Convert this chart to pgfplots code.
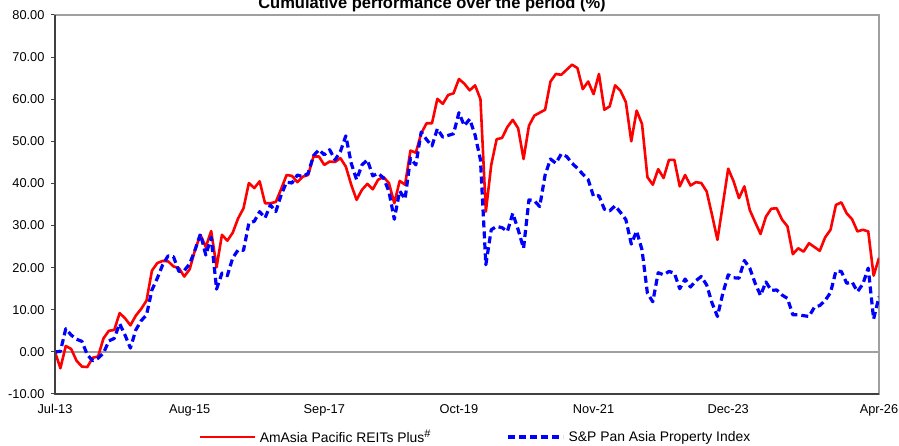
\documentclass[border=0pt]{standalone}
\usepackage{fontspec}
\setmainfont{Liberation Sans}
\usepackage{pgfplots}
\usepackage{pgfplotstable}
\pgfplotsset{compat=1.18}

\definecolor{framegray}{HTML}{A0A0A0}
\definecolor{axisdark}{HTML}{404040}

% months since Jul-13, cumulative return (%)
\pgfplotstableread{
m val
0 0
1 -3.9
2 1.4
3 0.7
4 -2.1
5 -3.5
6 -3.6
7 -1.4
8 -1.1
9 3.2
10 5.0
11 5.2
12 9.2
13 8.0
14 6.3
15 8.6
16 10.2
17 12.2
18 19.3
19 21.1
20 21.6
21 21.5
22 20.3
23 19.9
24 17.9
25 19.6
26 24.2
27 27.8
28 24.9
29 28.7
30 20.1
31 27.8
32 26.4
33 28.3
34 31.7
35 34.1
36 40.1
37 38.9
38 40.5
39 35.3
40 35.3
41 35.6
42 38.7
43 42.0
44 41.8
45 40.3
46 41.6
47 42.0
48 46.4
49 46.4
50 44.4
51 45.2
52 45.1
53 46.0
54 44.0
55 39.7
56 36.1
57 38.5
58 39.9
59 38.6
60 40.9
61 41.5
62 40.1
63 35.3
64 40.6
65 39.7
66 47.8
67 47.3
68 51.9
69 54.3
70 54.3
71 60.1
72 58.9
73 61.0
74 61.4
75 64.8
76 63.7
77 62.1
78 63.3
79 60.0
80 33.3
81 44.4
82 50.5
83 50.8
84 53.4
85 55.1
86 53.1
87 45.8
88 53.7
89 56.1
90 56.8
91 57.5
92 64.2
93 66.0
94 65.8
95 67.0
96 68.2
97 67.4
98 62.4
99 64.2
100 61.2
101 66.0
102 57.5
103 58.3
104 63.3
105 62.0
106 59.3
107 50.0
108 57.3
109 54.1
110 41.5
111 39.7
112 43.4
113 41.3
114 45.6
115 45.6
116 39.3
117 42.0
118 39.5
119 40.3
120 40.1
121 38.1
122 32.5
123 26.6
124 35.0
125 43.5
126 40.5
127 36.5
128 39.3
129 33.7
130 30.8
131 28.0
132 32.1
133 34.0
134 34.1
135 31.4
136 29.8
137 23.2
138 24.6
139 23.8
140 25.8
141 24.9
142 24.0
143 27.2
144 29.0
145 34.9
146 35.5
147 32.9
148 31.5
149 28.6
150 29.0
151 28.6
152 18.1
153 22.3
}\amasia

\pgfplotstableread{
m val
0 0
1 0.1
2 5.5
3 4.0
4 3.0
5 2.5
6 -0.7
7 -2.1
8 -1.5
9 -0.3
10 2.6
11 3.2
12 6.7
13 4.0
14 0.9
15 5.2
16 7.4
17 8.8
18 14.7
19 17.5
20 20.7
21 22.8
22 22.6
23 19.1
24 19.3
25 20.9
26 24.2
27 28.0
28 23.0
29 27.2
30 14.9
31 18.7
32 18.1
33 22.3
34 24.2
35 24.1
36 30.6
37 31.0
38 33.3
39 31.8
40 34.9
41 33.3
42 37.3
43 40.3
44 40.1
45 42.0
46 41.6
47 42.4
48 46.6
49 48.0
50 46.8
51 48.0
52 45.6
53 47.6
54 51.3
55 44.8
56 40.9
57 44.4
58 45.6
59 41.8
60 42.4
61 41.3
62 38.1
63 31.5
64 38.2
65 36.3
66 46.0
67 44.4
68 52.2
69 50.4
70 48.9
71 53.0
72 51.0
73 51.4
74 51.8
75 56.8
76 53.7
77 55.3
78 51.5
79 45.6
80 20.7
81 29.0
82 29.8
83 29.5
84 28.6
85 32.9
86 29.0
87 24.6
88 36.1
89 35.9
90 34.5
91 42.0
92 45.8
93 44.8
94 47.0
95 46.4
96 44.8
97 43.6
98 42.2
99 40.9
100 36.9
101 37.1
102 33.9
103 33.5
104 34.7
105 33.1
106 31.4
107 25.6
108 28.7
109 24.2
110 13.9
111 11.9
112 18.8
113 18.3
114 19.1
115 18.7
116 15.0
117 17.3
118 15.4
119 16.9
120 17.9
121 15.9
122 11.6
123 8.4
124 13.9
125 18.3
126 17.6
127 17.5
128 21.7
129 19.9
130 16.3
131 13.4
132 16.6
133 14.6
134 14.7
135 13.5
136 12.7
137 8.8
138 8.8
139 8.6
140 8.4
141 10.6
142 11.0
143 12.2
144 14.1
145 19.2
146 19.1
147 16.3
148 16.6
149 14.3
150 16.1
151 19.9
152 7.8
153 13.1
}\sppan

\begin{document}
\begin{tikzpicture}
\begin{axis}[
    name=ax,
    scale only axis,
    width=824pt, height=379pt,
    xmin=0, xmax=153,
    ymin=-10, ymax=80,
    xtick={0,25,50,75,100,125,153},
    xticklabels={Jul-13,Aug-15,Sep-17,Oct-19,Nov-21,Dec-23,Apr-26},
    ytick={-10,0,10,20,30,40,50,60,70,80},
    yticklabels={-10.00,0.00,10.00,20.00,30.00,40.00,50.00,60.00,70.00,80.00},
    axis line style={draw=framegray, line width=1.6pt},
    tick align=outside,
    ytick pos=left,
    major tick length=4pt,
    x tick style={draw=none},
    y tick style={draw=axisdark, line width=1pt},
    tick label style={font=\fontsize{12.8}{14}\selectfont},
    yticklabel style={xshift=-3pt},
    xticklabel style={yshift=-3pt},
    legend columns=2,
    legend style={
        at={(0.51,-0.1135)}, anchor=center,
        draw=none, fill=none,
        font=\fontsize{13.9}{16}\selectfont,
        /tikz/every odd column/.append style={column sep=2pt},
        /tikz/every even column/.append style={column sep=74pt},
    },
    legend cell align=left,
    legend image code/.code={\draw[#1] (0pt,0pt) -- (55pt,0pt);},
]
\draw[framegray, line width=1.4pt] (axis cs:0,0) -- (axis cs:153,0);
\addplot[red, line width=2.6pt, line join=round] table[x=m, y=val] {\amasia};
\addplot[blue, line width=3.2pt, dash pattern=on 7pt off 4pt, line join=round] table[x=m, y=val] {\sppan};
\legend{AmAsia Pacific REITs Plus\raisebox{5pt}{\fontsize{11}{12}\selectfont\#}, S\&P Pan Asia Property Index}
\end{axis}
\draw[axisdark, line width=1.6pt] (ax.north west) -- (ax.south west) -- (ax.south east);
\node[anchor=base, font=\bfseries\fontsize{16.5}{18}\selectfont]
    at ([xshift=377pt, yshift=6pt]ax.north west) {Cumulative performance over the period (\%)};
\pgfresetboundingbox
\path[use as bounding box] ([xshift=-55pt, yshift=-52pt]ax.south west)
    rectangle ([xshift=20pt, yshift=15pt]ax.north east);
\end{tikzpicture}
\end{document}
